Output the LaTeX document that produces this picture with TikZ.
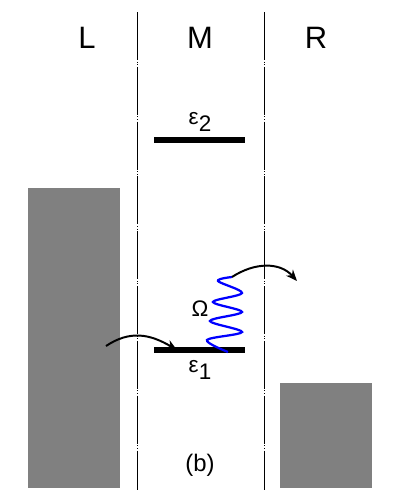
\documentclass[tikz,border=0pt]{standalone}
\usepackage{fontspec}
\setmainfont{Liberation Sans}
\usetikzlibrary{arrows.meta}

\tikzset{
    lead/.style={draw, line width=0.7pt, dash pattern=on 1.2cm off 0.04cm on 0.025cm off 0.04cm on 0.025cm off 0.04cm},
    band/.style={fill=black!50, draw=none},
    level/.style={line width=4.2pt},
    hop/.style={line width=1.4pt, -{Stealth[length=8pt,width=6.5pt]}},
    lbl/.style={font=\fontsize{22}{24}\selectfont},
    sym/.style={font=\fontsize{16}{18}\selectfont}
}

\begin{document}
\begin{tikzpicture}[x=0.025cm, y=-0.025cm]
    \useasboundingbox (0,0) rectangle (400,500);
    % leads
    \draw[lead] (137,12) -- (137,490);
    \draw[lead] (264,12) -- (264,490);
    \node[lbl] (labL) at (87,38) {L};
    \node[lbl] (labM) at (200,38) {M};
    \node[lbl] (labR) at (316,38) {R};
    % reservoirs
    \fill[band] (28,188) rectangle (120,488);
    \fill[band] (280,383) rectangle (372,488);
    % dot levels
    \draw[level] (154,140) -- (245,140);
    \draw[level] (154,350) -- (245,350);
    \node[sym] (eps2) at (200,122) {ε\raisebox{-0.6ex}{2}};
    \node[sym] (eps1) at (200,370) {ε\raisebox{-0.6ex}{1}};
    \node[sym] (omega) at (200,309) {Ω};
    % photon
    \coordinate (w0) at (228,352);
    \coordinate (w1) at (232,277);
    \draw[blue, line width=1.6pt] plot[smooth, tension=0.55] coordinates {(w0) (207,340) (242,332) (210,321) (242,312) (213,302) (242,293) (218,281) (w1)};
    % tunnelling
    \coordinate (in0) at (106,346);
    \coordinate (in1) at (177,350);
    \coordinate (out1) at (297,281);
    \draw[hop] (in0) .. controls (130,330) and (150,334) .. (in1);
    \draw[hop] (w1) .. controls (255,262) and (280,262) .. (out1);
    \node[font=\fontsize{17}{19}\selectfont] (capb) at (200,465) {(b)};
\end{tikzpicture}
\end{document}
